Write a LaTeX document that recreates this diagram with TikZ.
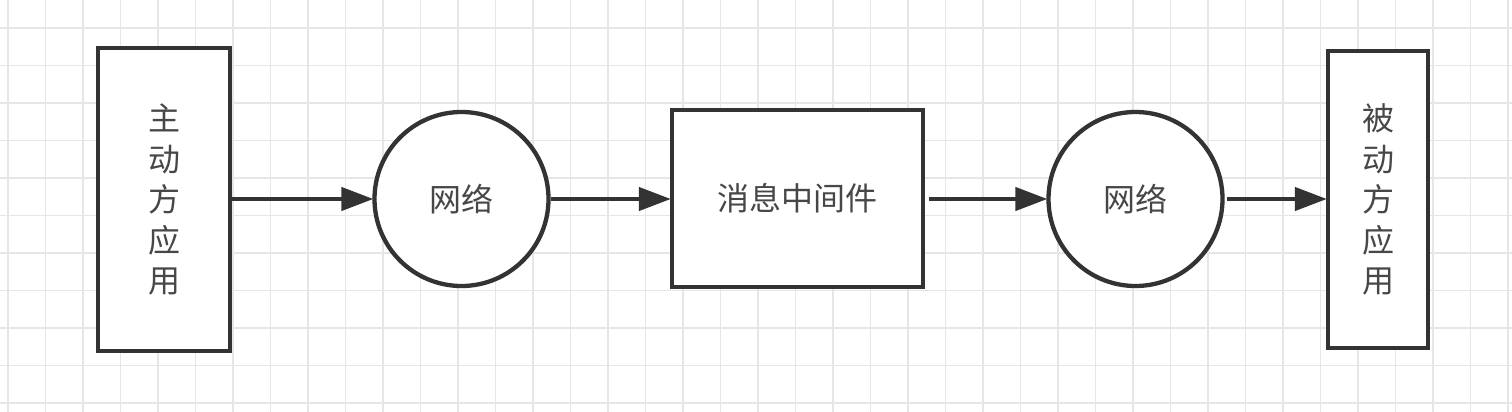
\documentclass[tikz,border=0pt]{standalone}
\usepackage{fontspec}
\newfontfamily\cjk{Noto Sans CJK SC}
\usetikzlibrary{arrows.meta}
\definecolor{ink}{HTML}{333333}
\definecolor{gridc}{HTML}{E6E6E6}
\tikzset{
  box/.style={draw=ink, line width=4.3pt, fill=white, inner sep=0pt},
  circ/.style={draw=ink, line width=4.3pt, fill=white, circle, inner sep=0pt, minimum size=174pt},
  lbl/.style={font=\cjk\fontsize{32}{40.5}\selectfont, text=ink!90, align=center},
  conn/.style={draw=ink, line width=4.3pt, -{Triangle[length=32pt,width=23pt]}, shorten >=-1pt},
}
\begin{document}
\begin{tikzpicture}[x=1pt,y=-1pt]
\useasboundingbox (0,0) rectangle (1512,412);
\fill[white] (0,0) rectangle (1512,412);
% grid
\foreach \i in {0,...,40} {
  \draw[gridc, line width=1.5pt] ({8+37.5*\i},0) -- ({8+37.5*\i},412);
}
\foreach \j in {-1,...,10} {
  \draw[gridc, line width=1.5pt] (0,{28+37.5*\j}) -- (1512,{28+37.5*\j});
}
% nodes
\node[box, minimum width=132pt, minimum height=303pt] (src) at (164,199.5) {};
\node[lbl] at (src.center) {主\\动\\方\\应\\用};
\node[circ] (net1) at (461.5,199) {};
\node[lbl] at (net1.center) {网络};
\node[box, minimum width=251pt, minimum height=177pt] (mq) at (797.5,198.5) {};
\node[lbl] at (mq.center) {消息中间件};
\node[circ] (net2) at (1135.5,199) {};
\node[lbl] at (net2.center) {网络};
\node[box, minimum width=100pt, minimum height=297pt] (dst) at (1378,199.5) {};
\node[lbl] at (dst.center) {被\\动\\方\\应\\用};
% connectors
\draw[conn] (src.east |- 0,199) -- (net1.west);
\draw[conn] (net1.east) -- (mq.west |- 0,199);
\draw[conn] ([xshift=4pt]mq.east |- 0,199) -- (net2.west);
\draw[conn] ([xshift=2pt]net2.east) -- (dst.west |- 0,199);
\end{tikzpicture}
\end{document}
